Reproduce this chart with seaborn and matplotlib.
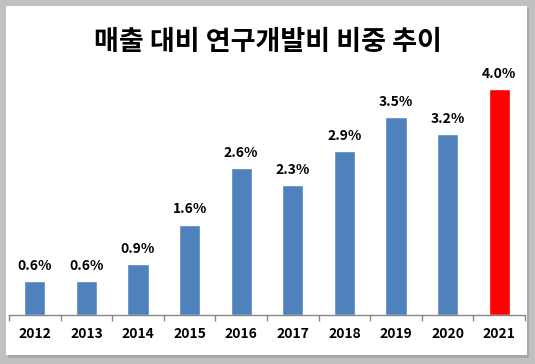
import matplotlib
matplotlib.use("Agg")
import matplotlib.pyplot as plt
import seaborn as sns
from matplotlib.patches import Rectangle

# 데이터
years = ["2012", "2013", "2014", "2015", "2016", "2017", "2018", "2019", "2020", "2021"]
ratio = [0.6, 0.6, 0.9, 1.6, 2.6, 2.3, 2.9, 3.5, 3.2, 4.0]
bar_colors = ["#4f81bd"] * 9 + ["#ff0000"]
title = "매출 대비 연구개발비 비중 추이"

sns.set_style("white")
plt.rcParams['font.family'] = ['Noto Sans CJK KR', 'DejaVu Sans']
plt.rcParams['text.color'] = 'black'
plt.rcParams['xtick.color'] = 'black'

W, H = 535, 364
fig = plt.figure(figsize=(W / 100, H / 100), dpi=100)
fig.patch.set_facecolor("#c0c0c0")

# 흰 패널 + 그림자
fig.patches.append(Rectangle((8 / W, 1 - 358 / H), 521 / W, 350 / H,
                             transform=fig.transFigure, facecolor="#a8a8a8",
                             edgecolor="none", zorder=-2))
fig.patches.append(Rectangle((6 / W, 1 - 355 / H), 521 / W, 349 / H,
                             transform=fig.transFigure, facecolor="white",
                             edgecolor="none", zorder=-1))

ax_bottom = 315
ymax = 4.6
ax_top = ax_bottom - ymax * 56.5
ax = fig.add_axes([9 / W, 1 - ax_bottom / H, 516 / W, (ax_bottom - ax_top) / H])
ax.set_facecolor("none")

sns.barplot(x=years, y=ratio, hue=years, palette=bar_colors, legend=False,
            width=0.41, saturation=1, ax=ax)

for i, v in enumerate(ratio):
    ax.text(i, v + 0.15, f"{v:.1f}%", ha="center", va="bottom",
            fontsize=10, fontweight="bold", color="black")

ax.set_ylim(0, ymax)
ax.set_xlim(-0.5, len(years) - 0.5)
ax.set_yticks([])
ax.set_xlabel("")
ax.set_ylabel("")
for s in ["top", "right", "left"]:
    ax.spines[s].set_visible(False)
ax.spines["bottom"].set_color("#868686")
ax.spines["bottom"].set_linewidth(1)

ax.set_xticks(range(len(years)))
ax.set_xticklabels(years, fontsize=10, fontweight="bold", color="black")
ax.tick_params(axis="x", which="major", length=0, pad=9)
ax.set_xticks([i - 0.5 for i in range(len(years) + 1)], minor=True)
ax.tick_params(axis="x", which="minor", length=4, color="#868686", width=1, bottom=True)

fig.text(0.5, 1 - 42 / H, title, ha="center", va="center", fontsize=19.5,
         fontweight="bold", color="black")

fig.savefig("out.png", dpi=100, facecolor=fig.get_facecolor())
